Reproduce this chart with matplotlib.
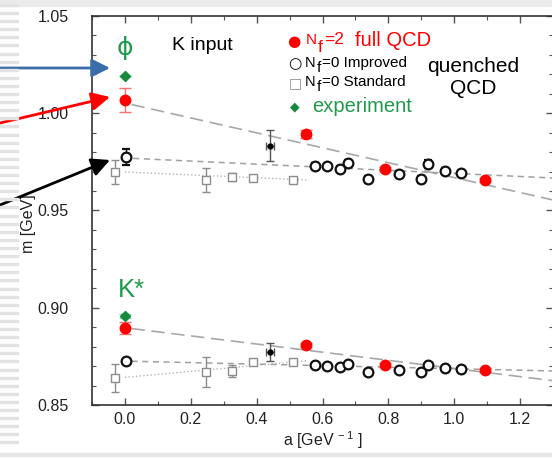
import numpy as np
import matplotlib
matplotlib.use('Agg')
import matplotlib.pyplot as plt
from matplotlib.patches import Rectangle
from matplotlib.ticker import MultipleLocator, FormatStrFormatter

plt.rcParams['font.family'] = ['Liberation Sans', 'DejaVu Sans']
plt.rcParams['mathtext.fontset'] = 'custom'
plt.rcParams['mathtext.rm'] = 'Liberation Sans'
plt.rcParams['mathtext.it'] = 'Liberation Sans'

# ---- data ----
# phi meson
phi_nf2_a = [0.0, 0.549, 0.789, 1.093]
phi_nf2_m = [1.0068, 0.9895, 0.9713, 0.9657]
phi_nf2_err = [0.0064, 0.002, 0.0012, 0.0012]

imp_a = [0.003, 0.576, 0.614, 0.652, 0.678, 0.737, 0.831, 0.898, 0.920, 0.971, 1.020]
phi_imp_m = [0.9775, 0.9729, 0.9727, 0.9713, 0.9744, 0.9660, 0.9687, 0.9660, 0.9740, 0.9703, 0.9693]
phi_imp_err = [0.004, 0.0015, 0.0012, 0.0015, 0.0015, 0.0018, 0.0015, 0.0018, 0.002, 0.0015, 0.0012]

std_a = [-0.03, 0.245, 0.324, 0.388, 0.509]
phi_std_m = [0.9698, 0.9657, 0.9672, 0.9667, 0.9657]
phi_std_err = [0.006, 0.006, 0.002, 0.0015, 0.0015]

phi_exp = 1.019

# K* meson
kst_nf2_m = [0.8896, 0.8808, 0.8706, 0.8680]
kst_nf2_err = [0.003, 0.0012, 0.001, 0.001]
kst_imp_m = [0.8726, 0.8706, 0.8701, 0.8695, 0.8710, 0.8670, 0.8680, 0.8670, 0.8706, 0.8690, 0.8685]
kst_imp_err = [0.0012, 0.0008, 0.0008, 0.0008, 0.0008, 0.0008, 0.0008, 0.0008, 0.0008, 0.0008, 0.0008]
kst_std_m = [0.8639, 0.8670, 0.8675, 0.8721, 0.8722]
kst_std_err = [0.007, 0.0075, 0.003, 0.001, 0.001]
kst_exp = 0.8958

# other lattice point (black)
oth_a = 0.44
oth_aerr = 0.012
phi_oth_m, phi_oth_err = 0.9832, 0.008
kst_oth_m, kst_oth_err = 0.8773, 0.0045

# fit lines (end points)
phi_nf2_fit_a, phi_nf2_fit_m = [0.02, 1.3], [1.0045, 0.9554]
phi_imp_fit_a, phi_imp_fit_m = [0.025, 1.3], [0.9768, 0.9667]
phi_std_fit_a, phi_std_fit_m = [0.0, 0.555], [0.9698, 0.9657]
kst_nf2_fit_a, kst_nf2_fit_m = [0.02, 1.3], [0.8893, 0.8625]
kst_imp_fit_a, kst_imp_fit_m = [0.02, 1.3], [0.8725, 0.8675]
kst_std_fit_a, kst_std_fit_m = [0.0, 0.555], [0.8642, 0.8728]

W, H = 552, 461
fig = plt.figure(figsize=(W/100, H/100), dpi=100)

# slide decorations
fig.patches.append(Rectangle((0, 1-6/H), 1, 6/H, transform=fig.transFigure,
                             color='#ebebeb', zorder=0))
fig.patches.append(Rectangle((0, (H-456)/H), 1, 3/H, transform=fig.transFigure,
                             color='#e6e6e6', zorder=0))
for yy in np.arange(4, 448, 8.1):
    fig.patches.append(Rectangle((0, (H-yy-2)/H), 18/W, 2/H, transform=fig.transFigure,
                                 color='#e3e3e3', zorder=0))

ax = fig.add_axes([92/W, (H-405)/H, (553-92)/W, (405-16)/H])
ax.set_xlim(-0.1, 1.3)
ax.set_ylim(0.85, 1.05)

red = '#ff0000'
green = '#1f9a4c'
gray = '#8c8c8c'

# fit lines
ax.plot(phi_nf2_fit_a, phi_nf2_fit_m, color='#a8a8a8', lw=1.2, dashes=(8, 4))
ax.plot(kst_nf2_fit_a, kst_nf2_fit_m, color='#a8a8a8', lw=1.2, dashes=(8, 4))
ax.plot(phi_imp_fit_a, phi_imp_fit_m, color='#a0a0a0', lw=1.1, dashes=(4, 3))
ax.plot(kst_imp_fit_a, kst_imp_fit_m, color='#a0a0a0', lw=1.1, dashes=(4, 3))
ax.plot(phi_std_fit_a, phi_std_fit_m, color='#b5b5b5', lw=1.0, ls=':')
ax.plot(kst_std_fit_a, kst_std_fit_m, color='#b5b5b5', lw=1.0, ls=':')

# standard (Nf=0)
for m, e in [(phi_std_m, phi_std_err), (kst_std_m, kst_std_err)]:
    ax.errorbar(std_a, m, yerr=e, fmt='s', ms=6, mfc='white', mec=gray, mew=1.0,
                ecolor=gray, elinewidth=1, capsize=3, zorder=3)

# improved (Nf=0)
for m, e in [(phi_imp_m, phi_imp_err), (kst_imp_m, kst_imp_err)]:
    ax.errorbar(imp_a, m, yerr=e, fmt='o', ms=7, mfc='white', mec='#111111', mew=1.6,
                ecolor='#111111', elinewidth=1, capsize=3, zorder=4)

# other lattice point
for m, e in [(phi_oth_m, phi_oth_err), (kst_oth_m, kst_oth_err)]:
    ax.errorbar([oth_a], [m], yerr=[e], xerr=[oth_aerr], fmt='o', ms=3.5, color='black',
                ecolor='#555555', elinewidth=1, capsize=3, zorder=4)

# full QCD (Nf=2)
for m, e in [(phi_nf2_m, phi_nf2_err), (kst_nf2_m, kst_nf2_err)]:
    ax.errorbar(phi_nf2_a, m, yerr=e, fmt='o', ms=7.5, color=red, mec=red,
                ecolor='#ff7070', elinewidth=1, capsize=4, zorder=5)

# experiment
ax.errorbar([0.0, 0.0], [phi_exp, kst_exp], yerr=[0.0, 0.0012], fmt='D', ms=5.5,
            color='#138a3c', ecolor='#8fd4a5', elinewidth=1, capsize=4, zorder=6)

# axes styling
ax.xaxis.set_major_locator(MultipleLocator(0.2))
ax.xaxis.set_minor_locator(MultipleLocator(0.1))
ax.yaxis.set_major_locator(MultipleLocator(0.05))
ax.yaxis.set_minor_locator(MultipleLocator(0.01))
ax.xaxis.set_major_formatter(FormatStrFormatter('%.1f'))
ax.yaxis.set_major_formatter(FormatStrFormatter('%.2f'))
ax.tick_params(which='both', direction='in', top=True, right=True, color='#555555')
ax.tick_params(which='major', length=5, width=1, labelsize=11.5, labelcolor='#222222')
ax.tick_params(which='minor', length=3, width=0.8)
ax.tick_params(axis='y', which='major', pad=17)
ax.tick_params(axis='x', which='major', pad=5)
for s in ax.spines.values():
    s.set_color('#333333')
    s.set_linewidth(1.2)

ax.set_xlabel('a [GeV$^{\\ -1}$ ]', fontsize=11.5, labelpad=2, color='#222222')
ax.set_ylabel('m [GeV]', fontsize=11.5, color='#222222')
ax.yaxis.set_label_coords((36 - 92) / 461, 0.465)


def px(x, y):
    return x / W, 1 - y / H


# annotations
fig.text(*px(125, 48), '\u03d5', color=green, fontsize=18, ha='center', va='center',
         family=['DejaVu Sans'])
fig.text(*px(131, 290), 'K*', color=green, fontsize=18.5, ha='center', va='center')
fig.text(*px(172, 45), 'K input', color='black', fontsize=14, ha='left', va='center')

# legend
fig.text(*px(294, 42), '\u25cf', color=red, fontsize=11, ha='center', va='center',
         family=['DejaVu Sans'])
fig.text(*px(306, 40), 'N', color=red, fontsize=11, ha='left', va='center')
fig.text(*px(318, 47), 'f', color=red, fontsize=12.5, ha='left', va='center')
fig.text(*px(324, 40), '=2', color=red, fontsize=12.5, ha='left', va='center')
fig.text(*px(355, 41), 'full QCD', color=red, fontsize=14.5, ha='left', va='center')

fig.text(*px(295, 64), '\u25cb', color='black', fontsize=11, ha='center', va='center',
         family=['DejaVu Sans'], weight='bold')
fig.text(*px(305, 63), 'N', color='black', fontsize=10.5, ha='left', va='center')
fig.text(*px(317, 68), 'f', color='black', fontsize=11, ha='left', va='center')
fig.text(*px(322, 63), '=0 Improved', color='black', fontsize=11, ha='left', va='center')

fig.text(*px(295, 83), '\u25a1', color=gray, fontsize=10, ha='center', va='center',
         family=['DejaVu Sans'])
fig.text(*px(305, 82), 'N', color='black', fontsize=10.5, ha='left', va='center')
fig.text(*px(317, 87), 'f', color='black', fontsize=11, ha='left', va='center')
fig.text(*px(322, 82), '=0 Standard', color='black', fontsize=11, ha='left', va='center')

fig.text(*px(295, 107), '\u25c6', color='#138a3c', fontsize=9, ha='center', va='center',
         family=['DejaVu Sans'])
fig.text(*px(312, 106), 'experiment', color=green, fontsize=14.5, ha='left', va='center')

fig.text(*px(473, 66), 'quenched', color='black', fontsize=15, ha='center', va='center')
fig.text(*px(473, 89), 'QCD', color='black', fontsize=15, ha='center', va='center')

# arrows from the slide
arrows = [((0, 68), (110, 68), '#3a6ea8'),
          ((0, 123), (110, 97), '#ff0000'),
          ((0, 205), (110, 160), 'black')]
for (x0, y0), (x1, y1), c in arrows:
    ax.annotate('', xy=(x1, H - y1), xycoords='figure pixels',
                xytext=(x0, H - y0), textcoords='figure pixels',
                arrowprops=dict(arrowstyle='-|>,head_length=1.1,head_width=0.55',
                                color=c, lw=2, shrinkA=0, shrinkB=0, mutation_scale=10),
                annotation_clip=False)

fig.savefig('out.png', dpi=100)
